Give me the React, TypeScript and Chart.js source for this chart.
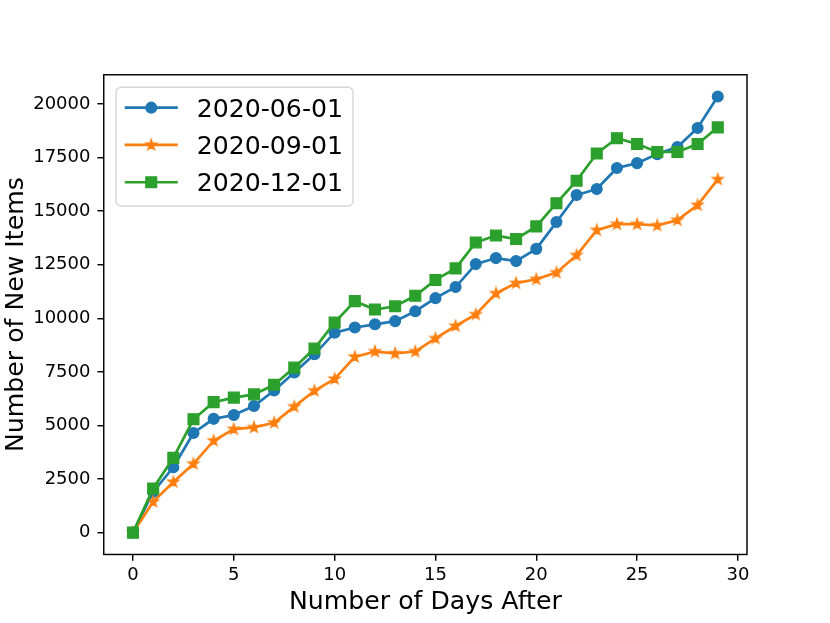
import React, { useEffect, useRef } from 'react';
import { Chart, registerables } from 'chart.js';

Chart.register(...registerables);

const days = [0, 1, 2, 3, 4, 5, 6, 7, 8, 9, 10, 11, 12, 13, 14, 15, 16, 17, 18, 19, 20, 21, 22, 23, 24, 25, 26, 27, 28, 29];

const june = [0, 1900, 3050, 4650, 5310, 5490, 5910, 6630, 7470, 8320, 9330, 9570, 9720, 9870, 10330, 10940, 11460, 12530, 12810, 12670, 13240, 14490, 15750, 16030, 17010, 17240, 17660, 17990, 18880, 20345];
const september = [0, 1440, 2360, 3210, 4290, 4830, 4910, 5130, 5880, 6620, 7170, 8200, 8450, 8360, 8450, 9060, 9640, 10180, 11160, 11640, 11820, 12130, 12940, 14110, 14390, 14390, 14330, 14580, 15280, 16480];
const december = [0, 2060, 3490, 5290, 6090, 6300, 6450, 6900, 7700, 8590, 9800, 10800, 10410, 10560, 11050, 11790, 12330, 13540, 13860, 13700, 14290, 15370, 16420, 17690, 18400, 18130, 17760, 17760, 18130, 18910];

const seriesLabels = ['2020-06-01', '2020-09-01', '2020-12-01'];
const xTicks = [0, 5, 10, 15, 20, 25, 30];
const yTicks = [0, 2500, 5000, 7500, 10000, 12500, 15000, 17500, 20000];

const xTitle = 'Number of Days After';
const yTitle = 'Number of New Items';

const FONT = "'DejaVu Sans', sans-serif";
const BLUE = '#1f77b4';
const ORANGE = '#ff7f0e';
const GREEN = '#2ca02c';

function makeStar(color: string, outerR: number, lw: number): HTMLCanvasElement {
  const s = Math.ceil((outerR + lw) * 2) + 2;
  const c = document.createElement('canvas');
  c.width = s;
  c.height = s;
  const ctx = c.getContext('2d')!;
  const cx = s / 2;
  const cy = s / 2;
  ctx.beginPath();
  for (let i = 0; i < 10; i++) {
    const r = i % 2 === 0 ? outerR : outerR * 0.381966;
    const a = -Math.PI / 2 + (i * Math.PI) / 5;
    const px = cx + r * Math.cos(a);
    const py = cy + r * Math.sin(a);
    if (i === 0) ctx.moveTo(px, py);
    else ctx.lineTo(px, py);
  }
  ctx.closePath();
  ctx.fillStyle = color;
  ctx.fill();
  ctx.lineWidth = lw;
  ctx.lineJoin = 'miter';
  ctx.strokeStyle = color;
  ctx.stroke();
  return c;
}

export default function App() {
  const ref = useRef<HTMLCanvasElement | null>(null);

  useEffect(() => {
    const canvas = ref.current;
    if (!canvas) return;
    const star = makeStar(ORANGE, 5.6, 1.3);

    const all = [...june, ...september, ...december];
    const dMax = Math.max(...all);
    const dMin = Math.min(...all);
    const span = dMax - dMin;
    const yMin = dMin - 0.05 * span;
    const yMax = dMax + 0.05 * span;
    const xMin = days[0] - 0.05 * (days[days.length - 1] - days[0]);
    const xMax = days[days.length - 1] + 0.05 * (days[days.length - 1] - days[0]);

    const toPts = (vals: number[]) => days.map((d, i) => ({ x: d, y: vals[i] }));

    const styles: { color: string; kind: string }[] = [
      { color: BLUE, kind: 'circle' },
      { color: ORANGE, kind: 'star' },
      { color: GREEN, kind: 'rect' },
    ];

    const framePlugin = {
      id: 'frameAndLegend',
      afterDatasetsDraw(chart: any) {
        const { ctx, chartArea } = chart;
        ctx.save();
        ctx.strokeStyle = '#000';
        ctx.lineWidth = 1.44;
        ctx.lineJoin = 'miter';
        ctx.strokeRect(chartArea.left, chartArea.top, chartArea.right - chartArea.left, chartArea.bottom - chartArea.top);

        // legend
        const fs = 25.2;
        ctx.font = `${fs}px ${FONT}`;
        const left = chartArea.left + 12.3;
        const top = chartArea.top + 12.5;
        const pad = 10;
        const handleLen = 50.4;
        const textX = left + pad + handleLen + 20.2;
        let maxW = 0;
        chart.data.datasets.forEach((ds: any) => {
          maxW = Math.max(maxW, ctx.measureText(ds.label).width);
        });
        const w = textX + maxW + pad - left;
        const h = 118.7;
        const r = 5;
        ctx.beginPath();
        ctx.moveTo(left + r, top);
        ctx.lineTo(left + w - r, top);
        ctx.arcTo(left + w, top, left + w, top + r, r);
        ctx.lineTo(left + w, top + h - r);
        ctx.arcTo(left + w, top + h, left + w - r, top + h, r);
        ctx.lineTo(left + r, top + h);
        ctx.arcTo(left, top + h, left, top + h - r, r);
        ctx.lineTo(left, top + r);
        ctx.arcTo(left, top, left + r, top, r);
        ctx.closePath();
        ctx.fillStyle = 'rgba(255,255,255,0.8)';
        ctx.fill();
        ctx.strokeStyle = 'rgba(204,204,204,0.8)';
        ctx.lineWidth = 1.44;
        ctx.stroke();

        chart.data.datasets.forEach((ds: any, i: number) => {
          const cy = top + 20.4 + i * 37.3;
          const x0 = left + pad;
          const x1 = x0 + handleLen;
          const cx = (x0 + x1) / 2;
          ctx.beginPath();
          ctx.moveTo(x0, cy);
          ctx.lineTo(x1, cy);
          ctx.strokeStyle = ds.borderColor;
          ctx.lineWidth = 2.7;
          ctx.lineCap = 'square';
          ctx.stroke();
          ctx.lineCap = 'butt';
          const st = styles[i];
          ctx.fillStyle = st.color;
          ctx.strokeStyle = st.color;
          ctx.lineWidth = 1.3;
          if (st.kind === 'circle') {
            ctx.beginPath();
            ctx.arc(cx, cy, 5.4, 0, Math.PI * 2);
            ctx.fill();
            ctx.stroke();
          } else if (st.kind === 'rect') {
            ctx.beginPath();
            ctx.rect(cx - 5.4, cy - 5.4, 10.8, 10.8);
            ctx.fill();
            ctx.stroke();
          } else {
            ctx.drawImage(star, cx - star.width / 2, cy - star.height / 2);
          }
          ctx.fillStyle = '#000';
          ctx.textBaseline = 'alphabetic';
          ctx.textAlign = 'left';
          ctx.fillText(ds.label, textX, cy + 9.2);
        });
        ctx.restore();
      },
    };

    const tickFont = { family: FONT, size: 18 };
    const titleFont = { family: FONT, size: 25.2, lineHeight: 1.2 };

    const chart = new Chart(canvas, {
      type: 'line',
      data: {
        datasets: [
          {
            label: seriesLabels[0],
            data: toPts(june),
            borderColor: BLUE,
            backgroundColor: BLUE,
            borderWidth: 2.7,
            pointStyle: 'circle',
            pointRadius: 5.4,
            pointBorderWidth: 1.3,
            pointBackgroundColor: BLUE,
            pointBorderColor: BLUE,
            tension: 0,
            order: 2,
          },
          {
            label: seriesLabels[1],
            data: toPts(september),
            borderColor: ORANGE,
            backgroundColor: ORANGE,
            borderWidth: 2.7,
            pointStyle: star as any,
            pointRadius: 5.6,
            pointBorderWidth: 0,
            tension: 0,
            order: 1,
          },
          {
            label: seriesLabels[2],
            data: toPts(december),
            borderColor: GREEN,
            backgroundColor: GREEN,
            borderWidth: 2.7,
            pointStyle: 'rect',
            pointRadius: 7.64,
            pointBorderWidth: 1.3,
            pointBackgroundColor: GREEN,
            pointBorderColor: GREEN,
            tension: 0,
            order: 0,
          },
        ],
      },
      options: {
        animation: false,
        responsive: false,
        maintainAspectRatio: false,
        events: [],
        layout: { padding: { top: 74.76, right: 83, left: 0, bottom: 0 } },
        plugins: {
          legend: { display: false },
          tooltip: { enabled: false },
        },
        scales: {
          x: {
            type: 'linear',
            min: xMin,
            max: xMax,
            afterBuildTicks: (s: any) => {
              s.ticks = xTicks.map((v) => ({ value: v }));
            },
            afterFit: (s: any) => {
              s.height = 68.53;
            },
            grid: {
              display: true,
              drawOnChartArea: false,
              drawTicks: true,
              tickLength: 6.3,
              color: '#000',
              lineWidth: 1.44,
            },
            border: { display: false },
            ticks: {
              font: tickFont,
              color: '#000',
              padding: 3.9,
              maxRotation: 0,
              autoSkip: false,
              callback: (v: any) => String(v),
            },
            title: {
              display: true,
              text: xTitle,
              font: titleFont,
              color: '#000',
              padding: { top: 0, bottom: 5.6 },
            },
          },
          y: {
            type: 'linear',
            min: yMin,
            max: yMax,
            afterBuildTicks: (s: any) => {
              s.ticks = yTicks.map((v) => ({ value: v }));
            },
            afterFit: (s: any) => {
              s.width = 103.75;
            },
            grid: {
              display: true,
              drawOnChartArea: false,
              drawTicks: true,
              tickLength: 6.3,
              color: '#000',
              lineWidth: 1.44,
            },
            border: { display: false },
            ticks: {
              font: tickFont,
              color: '#000',
              padding: 7,
              autoSkip: false,
              callback: (v: any) => String(v),
            },
            title: {
              display: true,
              text: yTitle,
              font: titleFont,
              color: '#000',
              padding: { top: 1.6, bottom: 0 },
            },
          },
        },
      },
      plugins: [framePlugin],
    } as any);

    return () => {
      chart.destroy();
    };
  }, []);

  return (
    <div style={{ position: 'absolute', left: 0, top: 0, width: 830, height: 623, background: '#fff' }}>
      <canvas ref={ref} width={830} height={623} style={{ display: 'block', width: 830, height: 623 }} />
    </div>
  );
}
